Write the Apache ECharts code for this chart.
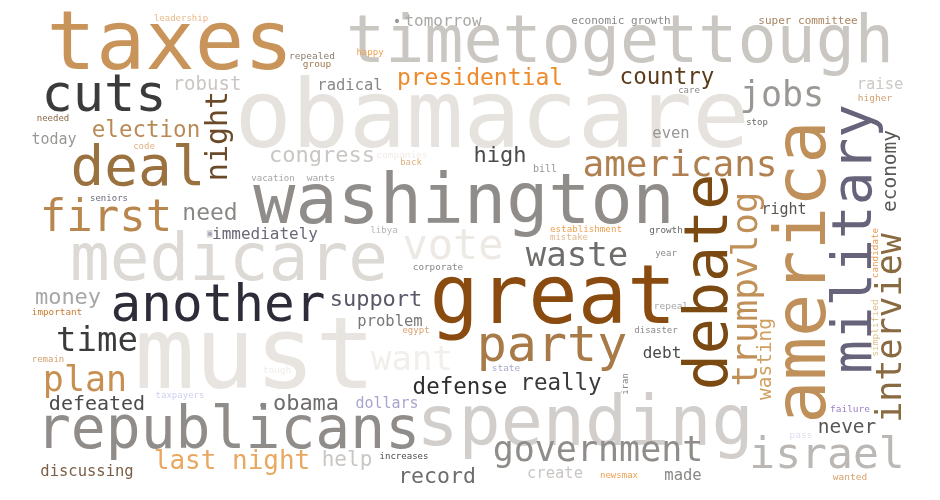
<!DOCTYPE html>
<html lang="en">
<head>
    <meta charset="utf-8">
    <title>word cloud</title>
    <script src="https://cdn.jsdelivr.net/npm/echarts@6/dist/echarts.min.js"></script>
    <style>
        html, body { margin: 0; padding: 0; background: #fff; }
        #cloud { width: 940px; height: 500px; }
    </style>
</head>
<body>
<div id="cloud"></div>

<script>
    // words and their weight (weight is drawn as font size in px)
    var words = [
        'obamacare', 'timetogettough', 'taxes', 'washington', 'great', 'must', 'spending', 'republicans',
        'medicare', 'another', 'cuts', 'deal', 'first', 'party', 'americans', 'government',
        'israel', 'jobs', 'vote', 'waste', 'plan', 'time', 'want', 'last night',
        'presidential', 'country', 'election', 'congress', 'high', 'need', 'money', 'support',
        'defense', 'really', 'obama', 'help', 'record', 'defeated', 'never', 'robust',
        'immediately', 'tomorrow', 'radical', 'even', 'today', 'raise', 'problem', 'dollars',
        'debt', 'discussing', 'create', 'made', 'right', 'economic growth', 'super committee', 'leadership',
        'repealed', 'happy', 'group', 'care', 'higher', 'stop', 'needed', 'code',
        'companies', 'back', 'bill', 'seniors', 'vacation', 'wants', 'libya', 'corporate',
        'establishment', 'mistake', 'growth', 'year', 'repeal', 'important', 'egypt', 'disaster',
        'remain', 'state', 'tough', 'taxpayers', 'increases', 'newsmax', 'failure', 'pass',
        'wanted', '•', '•', '•',
        'america', 'military', 'debate', 'trumpvlog', 'interview', 'night', 'economy', 'wasting',
        'candidate', 'simplified', 'iran'
    ];
    var weights = [
        95, 65, 82, 70, 82, 100, 70, 58,
        66, 51, 52, 56, 44, 50, 36, 35,
        43, 35, 42, 34, 35, 34, 34, 26,
        23, 22.5, 22.5, 22, 22, 23, 22, 22,
        22.5, 22.5, 22, 21, 21.5, 20, 19.5, 19,
        16, 16, 15.5, 15.5, 15, 15.5, 15.5, 15,
        16, 15.5, 15.5, 15.5, 15, 11, 11, 9,
        9.5, 9, 9.5, 9, 9.5, 9, 9, 9,
        9.5, 9, 10, 9, 9, 9.5, 9, 9.3,
        9.2, 9, 9.3, 9, 9.5, 9.3, 9, 9,
        9, 9.5, 9.5, 9, 9, 9, 9.5, 9.5,
        9.5, 14, 14, 18,
        72, 56, 60, 36, 35, 30, 19.5, 19.5,
        9.3, 9.5, 9
    ];
    // where each word sits in the 940 x 500 cloud (centre of the word)
    var cloudX = [
        492, 620, 170, 464, 553, 255, 585, 228,
        229, 218, 104, 138, 106, 552, 680, 598,
        827, 782, 453, 577, 85, 97, 412, 232,
        480, 667, 146, 322, 500, 210, 68, 376,
        460, 561, 306, 347, 437, 97, 847, 207,
        265, 443, 350, 671, 54, 880, 390, 387,
        662, 87, 555, 683, 784, 621, 808, 181,
        312, 370, 317, 689, 875, 757, 53, 144,
        402, 411, 545, 109, 273, 321, 384, 438,
        586, 569, 666, 666, 671, 57, 416, 656,
        48, 506, 277, 180, 404, 619, 850, 801,
        850, 397, 210, 263,
        806, 856, 711, 748, 892, 219, 891, 766,
        876, 876, 626
    ];
    var cloudY = [
        122, 45, 48, 205, 302, 362, 427, 433,
        263, 308, 97, 170, 220, 348, 167, 452,
        457, 97, 248, 257, 382, 342, 361, 462,
        79, 78, 131, 156, 156, 214, 298, 300,
        388, 384, 404, 461, 477, 405, 428, 85,
        235, 22, 86, 134, 140, 85, 322, 404,
        354, 472, 474, 476, 210, 21, 21, 19,
        57, 53, 65, 91, 99, 123, 119, 147,
        156, 163, 169, 199, 179, 179, 231, 268,
        230, 238, 231, 254, 307, 313, 331, 331,
        360, 369, 371, 396, 457, 476, 410, 436,
        478, 22, 235, 407,
        272, 239, 282, 289, 328, 136, 171, 359,
        253, 328, 384
    ];
    // 90 = word reads bottom to top
    var turns = [
        0, 0, 0, 0, 0, 0, 0, 0,
        0, 0, 0, 0, 0, 0, 0, 0,
        0, 0, 0, 0, 0, 0, 0, 0,
        0, 0, 0, 0, 0, 0, 0, 0,
        0, 0, 0, 0, 0, 0, 0, 0,
        0, 0, 0, 0, 0, 0, 0, 0,
        0, 0, 0, 0, 0, 0, 0, 0,
        0, 0, 0, 0, 0, 0, 0, 0,
        0, 0, 0, 0, 0, 0, 0, 0,
        0, 0, 0, 0, 0, 0, 0, 0,
        0, 0, 0, 0, 0, 0, 0, 0,
        0, 0, 0, 0,
        90, 90, 90, 90, 90, 90, 90, 90,
        90, 90, 90
    ];
    var tones = [
        '#e6e2de', '#cac6c2', '#c8945a', '#8f8c89', '#8a4b10', '#e8e4e0', '#d2cecb', '#8f8c89',
        '#ddd9d5', '#2e2c38', '#3b3b3b', '#9a723f', '#b9874e', '#a87a48', '#b08050', '#8f8c89',
        '#bab7b4', '#9a9794', '#ede9e5', '#6f6d6b', '#c89050', '#3b3b3b', '#f2eee9', '#e8a860',
        '#ee8a2a', '#5a3a18', '#b88a55', '#c9c6c3', '#4a4a4a', '#8a8886', '#a9a7a5', '#5a5868',
        '#2e2e2e', '#3a3a3a', '#6f6d6b', '#c9c6c3', '#6f6d6b', '#4a4a4a', '#5a5856', '#c9c6c3',
        '#6a6878', '#aaa8a6', '#8a8886', '#9a9896', '#9a9896', '#ccc9c6', '#7a7876', '#a8a4d0',
        '#4a4a4a', '#7a6048', '#c9c6c3', '#8a8886', '#5a5450', '#8a8886', '#a88560', '#e8b98a',
        '#8a7c70', '#f0a050', '#a07850', '#8a8886', '#d0a070', '#6a6866', '#8b6a4a', '#e0b080',
        '#f0ece8', '#e0b080', '#9a9896', '#6a6878', '#a8a6a4', '#a8a6a4', '#b8b6b4', '#8a8886',
        '#f0a050', '#e0b890', '#6a6866', '#8a8886', '#a8a6a4', '#c87a30', '#d8a070', '#8a8886',
        '#d0a070', '#a8a8c8', '#f0ece8', '#d0d0f0', '#4a4a4a', '#f0a050', '#9a80c8', '#e0dcf0',
        '#d8a070', '#9a9896', '#a8a6b8', '#8a8886',
        '#c0905a', '#66637a', '#7a4a12', '#c09058', '#8a6a40', '#6b4a2a', '#5a5856', '#d0a060',
        '#e89a50', '#e0c090', '#8a8886'
    ];

    var chart = echarts.init(document.getElementById('cloud'), null, { renderer: 'canvas' });

    var points = words.map(function (w, i) {
        return {
            name: w,
            value: [cloudX[i], cloudY[i]],
            label: {
                fontSize: weights[i],
                rotate: turns[i],
                color: tones[i]
            }
        };
    });

    chart.setOption({
        backgroundColor: '#ffffff',
        animation: false,
        grid: { left: 0, right: 0, top: 0, bottom: 0 },
        xAxis: { type: 'value', min: 0, max: 940, show: false },
        yAxis: { type: 'value', min: 0, max: 500, inverse: true, show: false },
        series: [{
            type: 'scatter',
            silent: true,
            symbolSize: 1,
            // scatter is 0.8 opaque by default, which would fade the words
            itemStyle: { color: 'rgba(0,0,0,0)', opacity: 1 },
            label: {
                show: true,
                position: 'inside',
                align: 'center',
                verticalAlign: 'middle',
                opacity: 1,
                fontFamily: 'DejaVu Sans Mono',
                formatter: function (p) { return p.name; }
            },
            data: points
        }]
    });
</script>
</body>
</html>
